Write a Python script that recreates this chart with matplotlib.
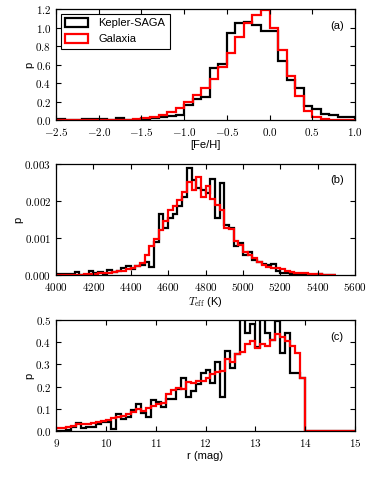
import numpy as np
import matplotlib
matplotlib.use('Agg')
import matplotlib.pyplot as plt
from matplotlib.patches import Patch
from matplotlib.ticker import FuncFormatter, MultipleLocator

plt.rcParams['font.family'] = ['Liberation Sans', 'DejaVu Sans']
plt.rcParams['mathtext.fontset'] = 'cm'
plt.rcParams['font.size'] = 8

# ---- panel (a): [Fe/H], bins of 0.1 from -2.5 to 1.0
feh_edges = np.round(np.arange(-2.5, 1.01, 0.1), 2)
feh_saga = [0.01, 0.0, 0.0, 0.01, 0.01, 0.01, 0.0, 0.02, 0.0, 0.0,
            0.01, 0.02, 0.03, 0.05, 0.06, 0.16, 0.23, 0.25, 0.56, 0.61,
            0.94, 1.05, 1.06, 1.03, 0.96, 0.96, 0.64, 0.43, 0.35, 0.15,
            0.12, 0.07, 0.06, 0.03, 0.04]
feh_gal = [0.0, 0.0, 0.0, 0.0, 0.0, 0.0, 0.0, 0.0, 0.0, 0.01,
           0.02, 0.04, 0.06, 0.09, 0.13, 0.20, 0.27, 0.35, 0.44, 0.57,
           0.73, 0.90, 1.05, 1.14, 1.19, 1.00, 0.76, 0.48, 0.26, 0.10,
           0.04, 0.01, 0.0, 0.0, 0.0]

# ---- panel (b): Teff, bins of 25 K from 4000 to 5500 (values in 1e-3)
teff_edges = np.arange(4000, 5501, 25)
teff_saga = [0.02, 0.02, 0.02, 0.02, 0.07, 0.01, 0.01, 0.10, 0.05, 0.07,
             0.03, 0.14, 0.08, 0.10, 0.18, 0.23, 0.15, 0.24, 0.28, 0.36,
             0.22, 0.88, 1.65, 1.28, 1.55, 1.65, 1.85, 2.10, 2.90, 2.55,
             2.35, 2.30, 2.20, 2.60, 1.55, 2.48, 1.35, 1.27, 0.78, 0.85,
             0.55, 0.62, 0.40, 0.35, 0.30, 0.26, 0.30, 0.10, 0.06, 0.05,
             0.03, 0.02, 0.01, 0.01, 0.01, 0.01, 0.03, 0.0, 0.0, 0.0]
teff_gal = [0.0, 0.0, 0.0, 0.01, 0.01, 0.01, 0.02, 0.02, 0.03, 0.04,
            0.05, 0.06, 0.08, 0.10, 0.12, 0.15, 0.19, 0.25, 0.32, 0.55,
            0.78, 0.98, 1.22, 1.45, 1.75, 1.85, 2.02, 2.25, 2.50, 2.30,
            2.65, 2.10, 2.40, 2.05, 1.90, 1.75, 1.28, 1.25, 0.92, 0.80,
            0.63, 0.55, 0.45, 0.35, 0.28, 0.22, 0.20, 0.18, 0.15, 0.11,
            0.08, 0.06, 0.05, 0.04, 0.03, 0.02, 0.02, 0.01, 0.01, 0.01]

# ---- panel (c): r mag, bins of 0.1 from 9 to 15
r_edges = np.round(np.arange(9.0, 15.01, 0.1), 2)
r_saga = [0.0, 0.0, 0.005, 0.02, 0.035, 0.012, 0.02, 0.02, 0.03, 0.04,
          0.04, 0.01, 0.075, 0.055, 0.065, 0.095, 0.12, 0.08, 0.065, 0.14,
          0.13, 0.11, 0.145, 0.145, 0.19, 0.24, 0.155, 0.18, 0.21, 0.26,
          0.275, 0.215, 0.31, 0.155, 0.36, 0.285, 0.345, 0.56, 0.44, 0.48,
          0.38, 0.53, 0.44, 0.41, 0.495, 0.35, 0.44, 0.26, 0.26, 0.24,
          0.0, 0.0, 0.0, 0.0, 0.0, 0.0, 0.0, 0.0, 0.0, 0.0]
r_gal = [0.015, 0.015, 0.02, 0.025, 0.033, 0.03, 0.032, 0.038, 0.043, 0.045,
         0.05, 0.058, 0.063, 0.07, 0.075, 0.085, 0.10, 0.09, 0.105, 0.115,
         0.12, 0.125, 0.165, 0.185, 0.195, 0.19, 0.22, 0.215, 0.225, 0.225,
         0.24, 0.255, 0.265, 0.27, 0.325, 0.31, 0.345, 0.355, 0.39, 0.405,
         0.375, 0.39, 0.385, 0.41, 0.435, 0.425, 0.405, 0.385, 0.35, 0.24,
         0.0, 0.0, 0.0, 0.0, 0.0, 0.0, 0.0, 0.0, 0.0, 0.0]


def math_fmt(nd):
    return FuncFormatter(lambda v, pos: '$%.*f$' % (nd, v))


def style_axis(ax):
    ax.tick_params(direction='in', top=True, right=True, length=3.5, width=0.8, labelsize=8)
    ax.tick_params(axis='x', pad=4.5)
    for s in ax.spines.values():
        s.set_linewidth(0.9)


fig = plt.figure(figsize=(3.74, 4.79), dpi=100)
ax1 = fig.add_axes([0.150, 0.749, 0.799, 0.232])
ax2 = fig.add_axes([0.150, 0.426, 0.799, 0.232])
ax3 = fig.add_axes([0.150, 0.100, 0.799, 0.232])

lw = 1.6
# (a)
ax1.stairs(feh_saga, feh_edges, color='k', lw=lw)
ax1.stairs(feh_gal, feh_edges, color='r', lw=lw)
ax1.set_xlim(-2.5, 1.0)
ax1.set_ylim(0, 1.2)
ax1.xaxis.set_major_locator(MultipleLocator(0.5))
ax1.yaxis.set_major_locator(MultipleLocator(0.2))
ax1.xaxis.set_major_formatter(math_fmt(1))
ax1.yaxis.set_major_formatter(math_fmt(1))
ax1.set_xlabel('[Fe/H]', labelpad=1)
ax1.set_ylabel('p', labelpad=1)
ax1.text(0.94, 0.85, '(a)', transform=ax1.transAxes, ha='center', va='center')
handles = [Patch(facecolor='none', edgecolor='k', lw=lw),
           Patch(facecolor='none', edgecolor='r', lw=lw)]
leg = ax1.legend(handles, ['Kepler-SAGA', 'Galaxia'], loc='upper left',
                 fancybox=False, edgecolor='k', framealpha=1,
                 borderaxespad=0.4, handlelength=2.1, handleheight=0.9,
                 handletextpad=0.9)
leg.get_frame().set_linewidth(0.8)

# (b)
teff_saga_p = np.array(teff_saga) * 1e-3
teff_gal_p = np.array(teff_gal) * 1e-3
ax2.stairs(teff_saga_p, teff_edges, color='k', lw=lw)
ax2.stairs(teff_gal_p, teff_edges, color='r', lw=lw)
ax2.set_xlim(4000, 5600)
ax2.set_ylim(0, 0.003)
ax2.xaxis.set_major_locator(MultipleLocator(200))
ax2.yaxis.set_major_locator(MultipleLocator(0.001))
ax2.xaxis.set_major_formatter(math_fmt(0))
ax2.yaxis.set_major_formatter(math_fmt(3))
ax2.set_xlabel(r'$T_{\rm eff}$ (K)', labelpad=1)
ax2.set_ylabel('p', labelpad=1)
ax2.text(0.94, 0.85, '(b)', transform=ax2.transAxes, ha='center', va='center')

# (c)
ax3.stairs(r_saga, r_edges, color='k', lw=lw)
ax3.stairs(r_gal, r_edges, color='r', lw=lw)
ax3.set_xlim(9, 15)
ax3.set_ylim(0, 0.5)
ax3.xaxis.set_major_locator(MultipleLocator(1))
ax3.yaxis.set_major_locator(MultipleLocator(0.1))
ax3.xaxis.set_major_formatter(math_fmt(0))
ax3.yaxis.set_major_formatter(math_fmt(1))
ax3.set_xlabel('r (mag)', labelpad=1)
ax3.set_ylabel('p', labelpad=1)
ax3.text(0.94, 0.85, '(c)', transform=ax3.transAxes, ha='center', va='center')

for ax in (ax1, ax2, ax3):
    style_axis(ax)

fig.savefig('out.png', dpi=100)
